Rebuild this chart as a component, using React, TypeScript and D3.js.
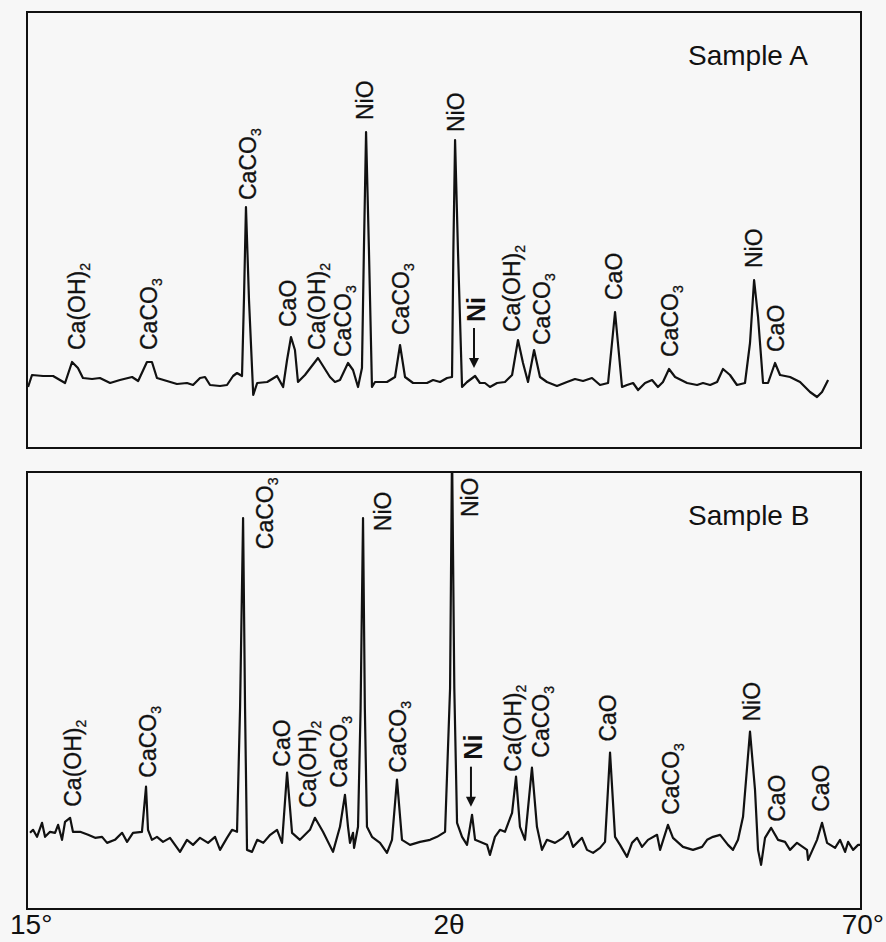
import * as d3 from "d3";

// 2θ / intensity pairs (intensity in arbitrary counts)
const sampleA: [number, number][] = [
  [15.07, 61], [15.33, 73], [16.06, 72], [16.72, 72], [17.51, 65], [17.97, 86], [18.36, 80],
  [18.69, 70], [19.29, 69], [19.81, 70], [20.48, 65], [21.13, 68], [21.93, 71], [22.33, 67],
  [22.91, 86], [23.24, 86], [23.57, 70], [24.23, 67], [24.89, 64], [25.55, 65], [25.95, 63],
  [26.41, 70], [26.74, 71], [27.07, 63], [27.73, 62], [28.19, 63], [28.59, 72], [28.85, 75],
  [29.18, 72], [29.31, 150], [29.44, 241], [29.64, 148], [29.92, 53], [30.18, 65], [30.84, 66],
  [31.49, 72], [31.89, 61], [32.15, 88], [32.41, 111], [32.67, 98], [32.87, 66], [33.33, 73],
  [34.19, 90], [34.98, 71], [35.31, 66], [35.64, 68], [36.17, 85], [36.5, 78], [36.83, 61],
  [37.09, 80], [37.22, 200], [37.36, 316], [37.55, 198], [37.75, 61], [37.95, 66], [38.74, 66],
  [39.27, 71], [39.6, 103], [39.93, 71], [40.46, 65], [41.38, 65], [41.78, 68], [42.24, 66],
  [42.7, 70], [43.03, 71], [43.12, 200], [43.23, 308], [43.42, 198], [43.69, 61], [44.02, 66],
  [44.55, 72], [44.87, 65], [45.2, 65], [45.53, 61], [46.0, 65], [46.52, 66], [46.99, 73],
  [47.38, 108], [47.71, 85], [48.04, 66], [48.44, 98], [48.83, 71], [49.29, 66], [49.95, 62],
  [50.61, 66], [51.14, 69], [51.67, 67], [52.26, 70], [52.79, 63], [53.32, 65], [53.78, 136],
  [54.24, 61], [54.57, 63], [54.97, 65], [55.3, 58], [55.76, 65], [56.22, 68], [56.61, 61],
  [56.94, 66], [57.34, 79], [57.74, 71], [58.53, 65], [59.19, 63], [59.58, 65], [60.05, 63],
  [60.51, 66], [60.9, 79], [61.36, 73], [61.82, 63], [62.35, 65], [62.68, 105], [62.95, 168],
  [63.21, 131], [63.54, 65], [63.87, 65], [64.33, 85], [64.66, 73], [65.32, 71], [65.98, 66],
  [66.64, 56], [67.1, 51], [67.43, 56], [67.83, 68],
];

const sampleB: [number, number][] = [
  [15.2, 76], [15.4, 79], [15.66, 72], [15.99, 86], [16.19, 72], [16.52, 77], [16.85, 76],
  [17.05, 84], [17.31, 69], [17.51, 87], [17.84, 91], [18.03, 77], [18.5, 77], [19.03, 74],
  [19.49, 71], [19.95, 72], [20.28, 66], [20.8, 69], [21.27, 76], [21.6, 67], [21.99, 76],
  [22.58, 77], [22.85, 122], [22.98, 79], [23.24, 69], [23.57, 72], [23.97, 67], [24.43, 71],
  [25.09, 57], [25.55, 69], [25.95, 64], [26.41, 71], [26.94, 66], [27.4, 72], [27.73, 59],
  [28.19, 71], [28.52, 79], [28.85, 77], [29.05, 200], [29.25, 390], [29.38, 200], [29.51, 59],
  [29.84, 57], [30.18, 69], [30.58, 66], [31.04, 74], [31.49, 79], [31.82, 66], [32.15, 136],
  [32.48, 76], [33.0, 69], [33.66, 79], [33.99, 91], [34.52, 77], [35.18, 57], [35.64, 82],
  [35.97, 114], [36.17, 82], [36.3, 66], [36.5, 76], [36.57, 61], [36.83, 82], [37.0, 200],
  [37.16, 390], [37.28, 200], [37.42, 82], [37.75, 72], [38.28, 66], [38.74, 56], [39.07, 69],
  [39.4, 129], [39.73, 69], [40.26, 64], [40.92, 67], [41.58, 69], [42.04, 72], [42.57, 77],
  [42.9, 220], [43.03, 460], [43.18, 220], [43.36, 86], [43.69, 72], [44.02, 64], [44.35, 94],
  [44.55, 69], [44.87, 67], [45.34, 64], [45.53, 54], [45.86, 72], [46.19, 79], [46.52, 77],
  [46.99, 96], [47.25, 132], [47.51, 82], [47.84, 69], [48.3, 141], [48.63, 82], [48.96, 59],
  [49.29, 69], [49.82, 66], [50.35, 71], [50.68, 77], [51.01, 62], [51.6, 71], [51.93, 59],
  [52.33, 56], [52.79, 61], [53.12, 67], [53.45, 156], [53.78, 72], [54.11, 64], [54.57, 52],
  [54.9, 66], [55.23, 71], [55.56, 62], [55.95, 69], [56.55, 74], [56.75, 59], [57.27, 84],
  [57.6, 71], [58.26, 62], [58.92, 59], [59.52, 62], [59.85, 69], [60.24, 72], [60.71, 74],
  [61.23, 64], [61.56, 59], [61.89, 69], [62.22, 92], [62.68, 177], [63.01, 119], [63.21, 59],
  [63.41, 44], [63.67, 71], [64.07, 81], [64.53, 69], [64.99, 67], [65.32, 59], [65.78, 66],
  [66.44, 59], [66.51, 49], [67.1, 69], [67.43, 86], [67.76, 66], [68.29, 61], [68.62, 69],
  [68.95, 57], [69.15, 67], [69.48, 59], [69.81, 64], [70.0, 64],
];

// phase labels: [text, subscript, 2θ, intensity at text foot]
const labelsA: [string, string, number, number][] = [
  ["Ca(OH)", "2", 18.3, 98],
  ["CaCO", "3", 23.05, 98],
  ["CaCO", "3", 29.58, 248],
  ["CaO", "", 32.21, 121],
  ["Ca(OH)", "2", 34.13, 98],
  ["CaCO", "3", 35.79, 91],
  ["NiO", "", 37.29, 328],
  ["CaCO", "3", 39.66, 113],
  ["NiO", "", 43.29, 316],
  ["Ca(OH)", "2", 46.99, 116],
  ["CaCO", "3", 48.96, 103],
  ["CaO", "", 53.71, 148],
  ["CaCO", "3", 57.41, 91],
  ["NiO", "", 62.95, 180],
  ["CaO", "", 64.4, 96],
];

const labelsB: [string, string, number, number][] = [
  ["Ca(OH)", "2", 18.03, 102],
  ["CaCO", "3", 22.98, 131],
  ["CaCO", "3", 30.7, 359],
  ["CaO", "", 31.82, 142],
  ["Ca(OH)", "2", 33.53, 101],
  ["CaCO", "3", 35.58, 121],
  ["NiO", "", 38.48, 377],
  ["CaCO", "3", 39.47, 136],
  ["NiO", "", 44.22, 391],
  ["Ca(OH)", "2", 47.06, 137],
  ["CaCO", "3", 48.9, 151],
  ["CaO", "", 53.28, 167],
  ["CaCO", "3", 57.47, 94],
  ["NiO", "", 62.82, 187],
  ["CaO", "", 64.46, 87],
  ["CaO", "", 67.37, 97],
];

// Ni marker: [2θ, label foot, arrow tail, arrow tip]
const niA = [44.61, 126, 120, 80];
const niB = [44.41, 149, 142, 102];

const xTicks = ["15°", "2θ", "70°"];

const W = 886;
const H = 942;
const FONT = "'Liberation Sans', Arial, Helvetica, sans-serif";
const INK = "#111";

const x = d3.scaleLinear().domain([15, 70]).range([27, 861]);

const panels = [
  { id: "a", top: 12, bottom: 448, data: sampleA, labels: labelsA, ni: niA, name: "Sample A" },
  { id: "b", top: 472, bottom: 909, data: sampleB, labels: labelsB, ni: niB, name: "Sample B" },
];

const Panel = ({ p }: { p: (typeof panels)[number] }) => {
  const y = d3.scaleLinear().domain([0, 436]).range([p.bottom, p.top]);
  const line = d3
    .line<[number, number]>()
    .x((d) => x(d[0]))
    .y((d) => y(d[1]));
  const [left, right] = x.range();
  const [nt, nLab, a0, a1] = p.ni;

  return (
    <g>
      <clipPath id={`clip-${p.id}`}>
        <rect x={left} y={p.top} width={right - left} height={p.bottom - p.top} />
      </clipPath>
      <path
        d={line(p.data) ?? ""}
        fill="none"
        stroke={INK}
        strokeWidth={2.2}
        strokeLinejoin="round"
        clipPath={`url(#clip-${p.id})`}
      />
      <rect
        x={left}
        y={p.top}
        width={right - left}
        height={p.bottom - p.top}
        fill="none"
        stroke={INK}
        strokeWidth={2}
      />
      {p.labels.map(([main, sub, t, i], k) => (
        <text
          key={k}
          transform={`translate(${x(t)},${y(i)}) rotate(-90)`}
          dy="0.36em"
          fontSize={23}
          fontFamily={FONT}
          fill={INK}
          stroke={INK}
          strokeWidth={0.3}
        >
          {main}
          {sub && (
            <tspan fontSize={14} dy={5}>
              {sub}
            </tspan>
          )}
        </text>
      ))}
      <text
        transform={`translate(${x(nt)},${y(nLab)}) rotate(-90)`}
        dy="0.36em"
        fontSize={25}
        fontWeight="bold"
        fontFamily={FONT}
        fill={INK}
      >
        Ni
      </text>
      <line
        x1={x(nt) - 2}
        x2={x(nt) - 2}
        y1={y(a0)}
        y2={y(a1) - 8}
        stroke={INK}
        strokeWidth={2}
      />
      <path
        d={`M${x(nt) - 7},${y(a1) - 10}L${x(nt) + 3},${y(a1) - 10}L${x(nt) - 2},${y(a1)}Z`}
        fill={INK}
      />
      <text x={688} y={p.top + 53} fontSize={28} fontFamily={FONT} fill={INK}>
        {p.name}
      </text>
    </g>
  );
};

export default function App() {
  return (
    <svg
      width={W}
      height={H}
      style={{ position: "absolute", left: 0, top: 0, background: "#f7f7f7" }}
    >
      {panels.map((p) => (
        <Panel key={p.id} p={p} />
      ))}
      <text x={10} y={934} fontSize={28} fontFamily={FONT} fill={INK}>
        {xTicks[0]}
      </text>
      <text x={449} y={934} fontSize={28} fontFamily={FONT} fill={INK} textAnchor="middle">
        {xTicks[1]}
      </text>
      <text x={884} y={934} fontSize={28} fontFamily={FONT} fill={INK} textAnchor="end">
        {xTicks[2]}
      </text>
    </svg>
  );
}
